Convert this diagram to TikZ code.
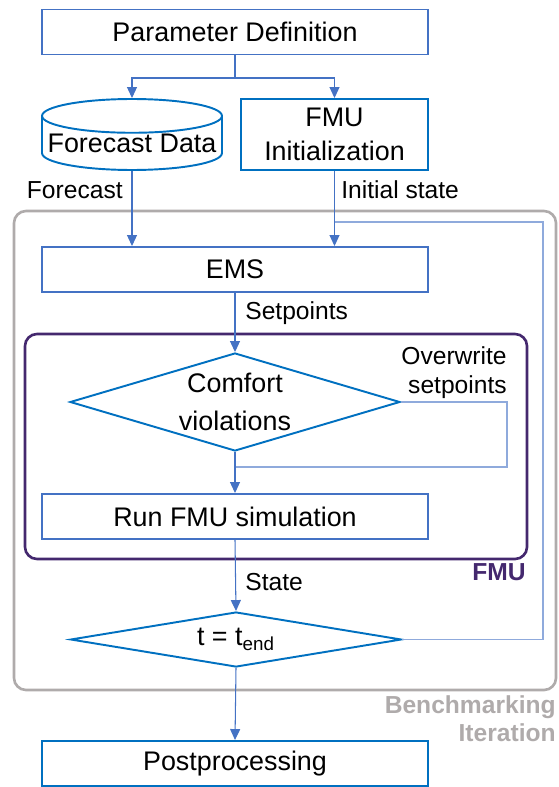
\documentclass[tikz,border=0pt]{standalone}
\usepackage{fontspec}
\setmainfont{Liberation Sans}
\usetikzlibrary{arrows.meta, positioning, shapes.geometric}

\definecolor{edgeblue}{HTML}{0070C0}
\definecolor{boxblue}{HTML}{4472C4}
\definecolor{loopblue}{HTML}{8FAADC}
\definecolor{framegrey}{HTML}{AFABAB}
\definecolor{fmupurple}{HTML}{44286E}

\begin{document}
\begin{tikzpicture}[
    x=0.02cm, y=-0.02cm,
    block/.style={rectangle, draw=boxblue, line width=1.1pt, minimum width=7.72cm, minimum height=0.9cm, inner sep=0pt, align=center, font=\fontsize{15.3}{19.4}\selectfont},
    decision/.style={diamond, draw=edgeblue, line width=1.1pt, inner sep=0pt, align=center, font=\fontsize{15.3}{21.5}\selectfont},
    flow/.style={draw=boxblue, line width=0.6pt, -{Triangle[length=0.22cm, width=0.2cm]}},
    back/.style={draw=loopblue, line width=0.7pt},
    lbl/.style={inner sep=0pt, font=\fontsize{14}{16.5}\selectfont},
    frame/.style={rounded corners=0.24cm, line width=1.5pt}
]
    \useasboundingbox (0,0) rectangle (558,787);

    % frames
    \draw[frame, draw=framegrey] (14,211) rectangle (556,690);
    \draw[frame, draw=fmupurple] (25,334) rectangle (527,559);

    % blocks
    \node[block] (param) at (235,32) {Parameter Definition};
    \node[cylinder, shape border rotate=90, aspect=0.2, draw=edgeblue, line width=1.1pt,
          minimum width=3.6cm, minimum height=1.42cm, inner sep=0pt, anchor=shape center,
          font=\fontsize{15.3}{19.4}\selectfont] (fcast) at (132,134.5) {Forecast Data};
    \node[block, draw=edgeblue, minimum width=3.74cm, minimum height=1.42cm] (finit) at (334.5,134.5) {FMU\\Initialization};
    \node[block] (ems) at (235,269.5) {EMS};
    \node[decision, aspect=3.4, minimum width=6.6cm, minimum height=1.96cm] (comfort) at (235,402) {Comfort\\violations};
    \node[block] (run) at (235,516.5) {Run FMU simulation};
    \node[decision, aspect=6, minimum width=6.62cm, minimum height=1.1cm] (tend) at (236,639.5) {t = t\textsubscript{end}};
    \node[block, draw=edgeblue] (post) at (235,763.5) {Postprocessing};

    % labels
    \node[lbl, anchor=east] (lfcast) at (123,190) {Forecast};
    \node[lbl, anchor=west] (linit) at (341,190) {Initial state};
    \node[lbl, anchor=west] (lset) at (245,313) {Setpoints};
    \node[lbl, anchor=east, align=right] (lover) at (507,372.5) {Overwrite\\setpoints};
    \node[lbl, anchor=west] (lstate) at (245,582) {State};
    \node[lbl, anchor=east, font=\fontsize{14}{16.5}\selectfont\bfseries, text=fmupurple] (lfmu) at (526,572) {FMU};
    \node[lbl, anchor=east, align=right, font=\fontsize{14}{15.9}\selectfont\bfseries, text=framegrey] (liter) at (556,719) {Benchmarking\\Iteration};

    % connectors
    \coordinate (split) at (235,78);
    \draw[flow] (param.south) -- (split) -| (fcast.north);
    \draw[flow] (split) -| (finit.north);
    \draw[flow] (fcast.south) -- (fcast.south |- ems.north);
    \draw[flow] (finit.south) -- (finit.south |- ems.north);
    \draw[flow] (ems.south) -- (comfort.north);
    \coordinate (owturn) at (507,467);
    \draw[back] (comfort.east) -| (owturn) -- (owturn -| comfort.south);
    \draw[flow] (comfort.south) -- (run.north);
    \draw[flow] (run.south) -- (tend.north);
    \coordinate (iterturn) at (543,222);
    \draw[back] (tend.east) -| (iterturn) -- (iterturn -| finit.south);
    \draw[flow] (tend.south) -- (post.north);
\end{tikzpicture}
\end{document}
